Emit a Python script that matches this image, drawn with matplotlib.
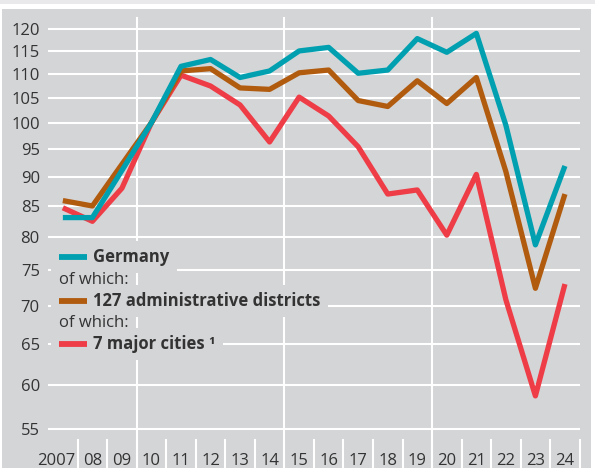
import numpy as np
import matplotlib.pyplot as plt
from matplotlib.patches import Rectangle
from matplotlib.lines import Line2D
from matplotlib.ticker import FixedLocator, NullLocator
from matplotlib.transforms import ScaledTranslation

# 字体
plt.rcParams['font.family'] = ['Open Sans', 'DejaVu Sans']

# 数据 (2010 = 100)
years = list(range(2007, 2025))
year_labels = ['2007', '08', '09', '10', '11', '12', '13', '14', '15',
               '16', '17', '18', '19', '20', '21', '22', '23', '24']
germany = [83.1, 83.1, 91.1, 100.0, 111.6, 113.1, 109.2, 110.6, 115.0,
           115.8, 110.1, 110.8, 117.8, 114.7, 119.0, 99.5, 78.8, 91.9]
districts = [85.9, 85.0, 92.2, 100.0, 110.6, 111.1, 107.0, 106.7, 110.2,
             110.8, 104.4, 103.2, 108.5, 103.8, 109.2, 90.9, 72.4, 87.0]
cities = [84.7, 82.5, 88.0, 100.0, 109.7, 107.4, 103.5, 96.3, 105.1,
          101.3, 95.4, 87.0, 87.7, 80.3, 90.4, 70.8, 58.7, 73.0]
y_ticks = [55, 60, 65, 70, 75, 80, 85, 90, 95, 100, 105, 110, 115, 120]
series_names = ['Germany', '127 administrative districts', '7 major cities \u00b9']

GRAY = '#d4d5d7'
TEAL = '#00a0b0'
BROWN = '#b15b0f'
RED = '#ee3d46'
TXT = '#333333'

W, H = 595, 468
fig = plt.figure(figsize=(W / 100, H / 100), dpi=100, facecolor='white')

# 背景
fig.patches.append(Rectangle((2 / W, 0), 589 / W, 459 / H, transform=fig.transFigure,
                             facecolor=GRAY, edgecolor='none', zorder=-1))
fig.patches.append(Rectangle((0, 464 / H), 1, 4 / H, transform=fig.transFigure,
                             facecolor='#e9e9eb', edgecolor='none', zorder=-1))

ax = fig.add_axes([48.1 / W, 0, 531.6 / W, 459 / H])
ax.set_facecolor(GRAY)
for s in ax.spines.values():
    s.set_visible(False)

ax.set_yscale('log')
ax.set_ylim(51.0, 124.8)
ax.set_xlim(2006.5, 2024.5)

ax.yaxis.set_major_locator(FixedLocator(y_ticks))
ax.yaxis.set_minor_locator(NullLocator())
ax.set_yticklabels([str(v) for v in y_ticks])
ax.set_xticks(years)
ax.set_xticklabels(year_labels)
ax.tick_params(axis='y', length=0, pad=6, labelsize=12, labelcolor=TXT)
ax.tick_params(axis='x', length=0, pad=-10.5, labelsize=12, labelcolor=TXT)
ax.grid(axis='y', color='white', linewidth=1.5)
ax.set_axisbelow(True)

# 2007 往左挪一点
first = ax.get_xticklabels()[0]
first.set_transform(first.get_transform() + ScaledTranslation(-6.5 / 100, 0, fig.dpi_scale_trans))

# 竖线
for x in [2009.5, 2014.5, 2019.5]:
    ax.axvline(x, 0, 450 / 459, color='white', linewidth=1.5, zorder=1)
for x in np.arange(2007.5, 2025, 1):
    ax.axvline(x, 0, 28 / 459, color='white', linewidth=1.5, zorder=1, clip_on=False)

# 折线
ax.plot(years, cities, color=RED, linewidth=3.8, solid_capstyle='butt', zorder=3)
ax.plot(years, districts, color=BROWN, linewidth=3.8, solid_capstyle='butt', zorder=4)
ax.plot(years, germany, color=TEAL, linewidth=3.8, solid_capstyle='butt', zorder=5)

# 图例
rows = [(series_names[0], TEAL, 262),
        ('of which:', None, 284.5),
        (series_names[1], BROWN, 306),
        ('of which:', None, 327),
        (series_names[2], RED, 349)]
texts = []
for label, color, yb in rows:
    if color is None:
        t = fig.text(59 / W, 1 - yb / H, label, fontsize=12, color=TXT, va='baseline', zorder=3)
    else:
        t = fig.text(93 / W, 1 - yb / H, label, fontsize=12, fontweight='bold', color=TXT,
                     va='baseline', zorder=3)
        texts.append((t, color, yb))

fig.canvas.draw()
for t, color, yb in texts:
    bb = t.get_window_extent()
    fig.patches.append(Rectangle((51 / W, (bb.y0 - 7) / H), (bb.x1 + 8 - 51) / W,
                                 (bb.height + 14) / H, transform=fig.transFigure,
                                 facecolor=GRAY, edgecolor='none', zorder=1))
    yc = 1 - (yb - 5) / H
    fig.lines.append(Line2D([59.3 / W, 87.3 / W], [yc, yc], transform=fig.transFigure,
                            color=color, linewidth=4.2, solid_capstyle='butt', zorder=2))

plt.savefig('out.png', dpi=100, facecolor='white')
